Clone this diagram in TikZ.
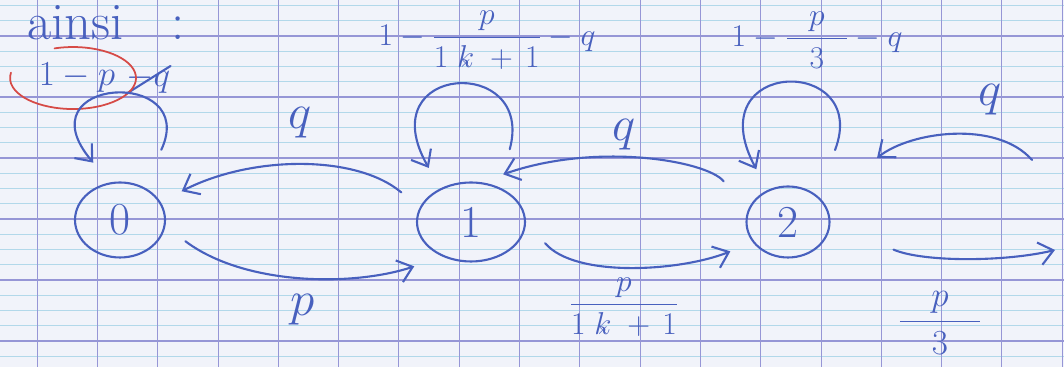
\RequirePackage{fix-cm}
\documentclass[tikz,border=0pt]{standalone}
\usepackage{amsmath}
\usetikzlibrary{shapes.geometric, arrows.meta}

\definecolor{ink}{RGB}{72,96,190}
\definecolor{redink}{RGB}{214,74,70}
\definecolor{paper}{RGB}{241,243,250}
\definecolor{seyes}{RGB}{178,216,234}
\definecolor{margin}{RGB}{150,150,214}

\tikzset{
    pen/.style = {draw=ink, line width=1.2pt, line cap=round},
    arr/.style = {pen, -{Straight Barb[length=8pt, width=13pt]}},
    state/.style = {ellipse, pen, text=ink, inner sep=0pt, outer sep=14pt, font=\fontsize{26}{28}\selectfont},
    lbl/.style = {text=ink, inner sep=0pt, font=\fontsize{28}{30}\selectfont},
    fraclbl/.style = {text=ink, inner sep=0pt, font=\fontsize{20}{24}\selectfont},
    smallfrac/.style = {fraclbl, font=\fontsize{18}{22}\selectfont},
}
\newcommand{\strikek}{\mathord{\ooalign{$k$\cr\hidewidth$\scriptscriptstyle\times$\hidewidth\cr}}}

\begin{document}
\begin{tikzpicture}[x=0.02cm, y=0.02cm]
    \useasboundingbox (0,0) rectangle (1064,367);
    % squared paper
    \fill[paper] (0,0) rectangle (1064,367);
    \foreach \j in {-2,...,21}
        \draw[seyes, line width=0.4pt] (0,{331-15.25*\j}) -- (1064,{331-15.25*\j});
    \foreach \j in {0,4,...,20}
        \draw[margin, line width=0.6pt] (0,{331-15.25*\j}) -- (1064,{331-15.25*\j});
    \foreach \k in {0,...,17}
        \draw[margin, line width=0.45pt] ({37+60.3*\k},0) -- ({37+60.3*\k},367);

    % states
    \node[state, minimum width=1.8cm, minimum height=1.5cm] (s0) at (120,147) {0};
    \node[state, minimum width=2.16cm, minimum height=1.58cm] (s1) at (471,145) {1};
    \node[state, minimum width=1.66cm, minimum height=1.42cm] (s2) at (788,145) {2};
    \coordinate (far2) at (1032,207);
    \coordinate (far3) at (1055,117);

    % texts
    \node[lbl, font=\fontsize{30}{32}\selectfont, anchor=base west] (title) at (27,327) {ainsi\hspace{0.9em}:};
    \node[fraclbl] (loop0lbl) at (77,289) {$1-p$};
    \node[fraclbl, anchor=west] (struck) at (126,287) {$-q$};
    \node[smallfrac] (loop1lbl) at (487,327) {$1-\dfrac{p}{1\;\strikek\;+\,1}-q$};
    \node[smallfrac] (loop2lbl) at (817,327) {$1-\dfrac{\hspace{0.7em}p\hspace{0.7em}}{3}-q$};
    \node[lbl] (q10) at (300,244) {$q$};
    \node[lbl] (p01) at (303,57) {$p$};
    \node[lbl] (q21) at (624,232) {$q$};
    \node[smallfrac] (p12) at (624,60) {$\dfrac{p}{1\;\strikek\;+\,1}$};
    \node[lbl] (q32) at (990,267) {$q$};
    \node[fraclbl] (p23) at (940,44) {$\dfrac{\hspace{0.9em}p\hspace{0.9em}}{3}$};

    \draw[pen] (struck.south west) -- (struck.north east);
    \draw[redink, line width=1pt, line cap=round] ([shift={(-22.4,29.6)}]loop0lbl.center)
        arc[start angle=107, end angle=-190, x radius=1.26cm, y radius=0.62cm];

    % loops
    \draw[arr, shorten <=10pt] (s0.58) .. controls +(46,99) and +(-73,86) .. (s0.115);
    \draw[arr, shorten <=9pt] (s1.59) .. controls +(30,110) and +(-60,105) .. (s1.128);
    \draw[arr, shorten <=14pt] (s2.52) .. controls +(45,118) and +(-60,112) .. (s2.121);

    % transitions
    \draw[arr] (s1.157) .. controls +(-45,38) and +(70,36) .. (s0.25);
    \draw[arr] (s0.-18) .. controls +(60,-45) and +(-60,-20) .. (s1.218);
    \draw[arr, shorten <=7pt, shorten >=-8pt] (s2.151) .. controls +(-25,30) and +(80,28) .. (s1.49);
    \draw[arr] (s1.-16) .. controls +(30,-35) and +(-50,-20) .. (s2.207);
    \draw[arr, shorten >=26pt] (far2) .. controls +(-35,40) and +(70,55) .. (s2.34);
    \draw[arr, shorten <=25pt] (s2.-9) .. controls +(70,-30) and +(-50,-12) .. (far3);
\end{tikzpicture}
\end{document}
